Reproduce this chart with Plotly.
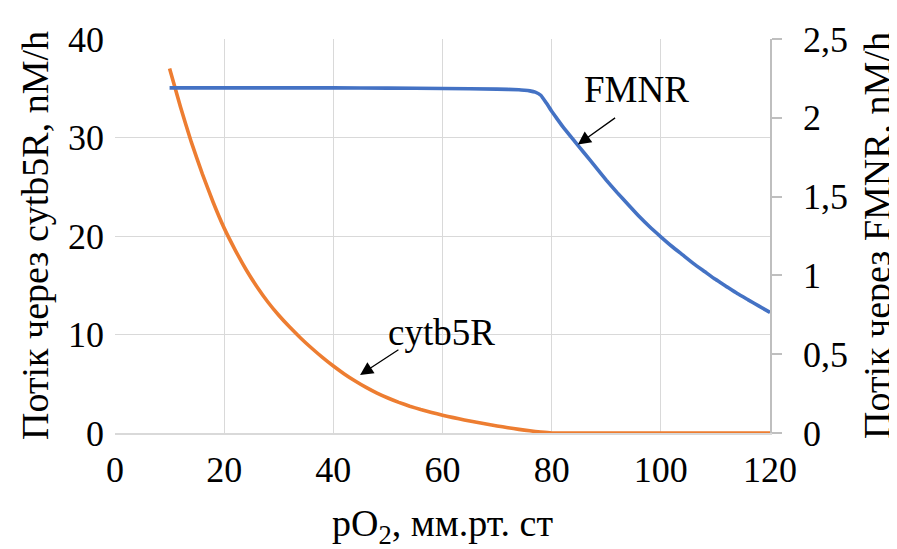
import plotly.graph_objects as go

# pO2 values (mm Hg)
po2_cyt = [10, 12, 14, 16, 18, 20, 22, 24, 26, 28, 30, 32, 34, 36, 38, 40, 42, 44, 46, 48,
           50, 52, 54, 56, 58, 60, 62, 64, 66, 68, 70, 72, 74, 76, 78, 80, 85, 90, 95, 100,
           105, 110, 115, 120]
cytb5r = [37.0, 33.1, 29.5, 26.3, 23.4, 20.8, 18.6, 16.6, 14.85, 13.3, 11.95, 10.75, 9.65,
          8.63, 7.68, 6.8, 6.0, 5.28, 4.63, 4.05, 3.55, 3.11, 2.72, 2.38, 2.08, 1.81, 1.56,
          1.33, 1.11, 0.91, 0.72, 0.54, 0.37, 0.22, 0.09, 0.0, 0.0, 0.0, 0.0, 0.0, 0.0, 0.0,
          0.0, 0.0]

po2_fmn = [10, 20, 30, 40, 50, 60, 70, 74, 75, 76, 77, 78, 79, 80, 81, 82, 84, 86, 88, 90,
           92, 94, 96, 98, 100, 102, 104, 106, 108, 110, 112, 114, 116, 118, 120]
fmnr = [2.19, 2.19, 2.19, 2.19, 2.188, 2.186, 2.182, 2.178, 2.175, 2.171, 2.163, 2.143,
        2.095, 2.042, 1.993, 1.946, 1.86, 1.775, 1.69, 1.605, 1.525, 1.45, 1.375, 1.307,
        1.245, 1.185, 1.13, 1.075, 1.025, 0.975, 0.93, 0.885, 0.845, 0.805, 0.765]

x_ticks = [0, 20, 40, 60, 80, 100, 120]
y_left_ticks = [0, 10, 20, 30, 40]
y_right_ticks = [0, 0.5, 1, 1.5, 2, 2.5]

FONT = "Liberation Serif, Times New Roman, serif"
GRID = "#d9d9d9"
AXIS = "#bfbfbf"
TICK_SIZE = 36
TITLE_SIZE = 38
ANN_SIZE = 37

fig = go.Figure()
fig.add_trace(go.Scatter(x=po2_cyt, y=cytb5r, mode="lines",
                         line=dict(color="#ED7D31", width=3.6, shape="spline", smoothing=0.4),
                         name="cytb5R", yaxis="y"))
fig.add_trace(go.Scatter(x=po2_fmn, y=fmnr, mode="lines",
                         line=dict(color="#4472C4", width=3.6, shape="spline", smoothing=0.4),
                         name="FMNR", yaxis="y2"))

fig.update_layout(
    width=889, height=541,
    margin=dict(l=107, r=127, t=23, b=116),
    paper_bgcolor="white", plot_bgcolor="white",
    showlegend=False,
    separators=", ",
    font=dict(family=FONT, size=TICK_SIZE, color="black"),
    xaxis=dict(range=[0, 120], tickvals=x_ticks, showgrid=True, gridcolor=GRID, gridwidth=1.3,
               showline=True, linecolor=GRID, linewidth=1.5, ticks="", zeroline=False,
               tickfont=dict(family=FONT, size=TICK_SIZE), ticklabelstandoff=4),
    yaxis=dict(range=[0, 40], tickvals=y_left_ticks, showgrid=True, gridcolor=GRID, gridwidth=1.3,
               showline=False, ticks="", zeroline=False,
               tickfont=dict(family=FONT, size=TICK_SIZE), ticklabelstandoff=10),
    yaxis2=dict(range=[0, 2.5], tickvals=y_right_ticks, overlaying="y", side="right",
                showgrid=False, showline=True, linecolor=AXIS, linewidth=1.5,
                ticks="outside", ticklen=10, tickcolor=AXIS, tickwidth=1.5, zeroline=False,
                tickfont=dict(family=FONT, size=TICK_SIZE), ticklabelstandoff=14),
)

annotations = [
    dict(text="Потік через cytb5R, nM/h", xref="paper", yref="paper", x=0, y=0.5,
         xshift=-80, textangle=-90, showarrow=False, font=dict(family=FONT, size=TITLE_SIZE),
         xanchor="center", yanchor="middle"),
    dict(text="Потік через FMNR, nM/h", xref="paper", yref="paper", x=1, y=0.5,
         xshift=107, textangle=-90, showarrow=False, font=dict(family=FONT, size=TITLE_SIZE),
         xanchor="center", yanchor="middle"),
    dict(text="pO<sub>2</sub>, мм.рт. ст", xref="paper", yref="paper", x=0.50, y=0,
         yshift=-93, showarrow=False, font=dict(family=FONT, size=TITLE_SIZE),
         xanchor="center", yanchor="middle"),
    dict(text="FMNR", xref="x", yref="y", x=95.6, y=34.9, showarrow=False,
         font=dict(family=FONT, size=ANN_SIZE), xanchor="center", yanchor="middle"),
    dict(text="", xref="x", yref="y", x=84.8, y=29.3, axref="x", ayref="y", ax=91.9, ay=32.1,
         showarrow=True, arrowhead=2, arrowsize=2.0, arrowwidth=1.3, arrowcolor="black"),
    dict(text="cytb5R", xref="x", yref="y", x=59.9, y=10.2, showarrow=False,
         font=dict(family=FONT, size=ANN_SIZE), xanchor="center", yanchor="middle"),
    dict(text="", xref="x", yref="y", x=44.9, y=5.9, axref="x", ayref="y", ax=52.2, ay=8.55,
         showarrow=True, arrowhead=2, arrowsize=2.0, arrowwidth=1.3, arrowcolor="black"),
]
fig.update_layout(annotations=annotations)

fig.write_html("out.html")
